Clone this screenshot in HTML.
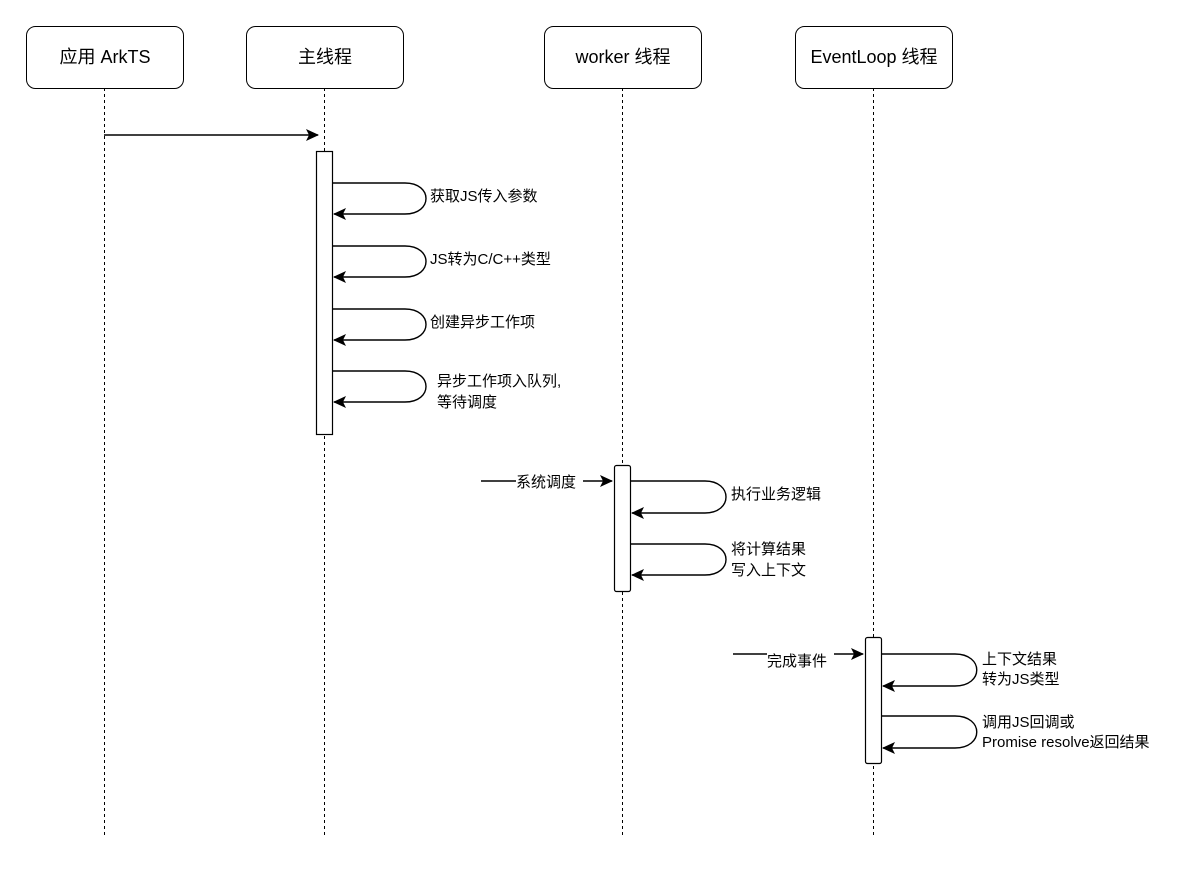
<!DOCTYPE html>
<html><head><meta charset="utf-8"><style>
body{margin:0;background:#fff;}
text{font-family:"Liberation Sans","Noto Sans CJK SC",sans-serif;font-size:15px;fill:#000;}
</style></head><body>
<svg width="1200" height="870" xmlns="http://www.w3.org/2000/svg">
<defs><marker id="a" markerWidth="13" markerHeight="12" refX="12" refY="6" orient="auto" markerUnits="userSpaceOnUse"><path d="M0,0 L13,6 L0,12 L3,6 Z" fill="#000"/></marker></defs>
<g stroke="#000" stroke-width="1" stroke-dasharray="3,3" fill="none">
<line x1="104.5" y1="88" x2="104.5" y2="838"/>
<line x1="324.5" y1="88" x2="324.5" y2="838"/>
<line x1="622.5" y1="88" x2="622.5" y2="838"/>
<line x1="873.5" y1="88" x2="873.5" y2="838"/>
</g>
<g stroke="#000" fill="#fff" stroke-width="1">
<rect x="26.5" y="26.5" width="157" height="62" rx="9"/>
<rect x="246.5" y="26.5" width="157" height="62" rx="9"/>
<rect x="544.5" y="26.5" width="157" height="62" rx="9"/>
<rect x="795.5" y="26.5" width="157" height="62" rx="9"/>
</g>
<g text-anchor="middle" style="font-size:18px">
<text x="105" y="63" style="font-size:18px">应用 ArkTS</text>
<text x="325" y="63" style="font-size:18px">主线程</text>
<text x="623" y="63" style="font-size:18px">worker 线程</text>
<text x="874" y="63" style="font-size:18px">EventLoop 线程</text>
</g>
<g stroke="#000" stroke-width="1.4" fill="none">
<line x1="104" y1="135" x2="318" y2="135" marker-end="url(#a)"/>
</g>
<g stroke="#000" fill="#fff" stroke-width="1.2">
<rect x="316.5" y="151.5" width="16" height="283"/>
<rect x="614.5" y="465.5" width="16" height="126" rx="2"/>
<rect x="865.5" y="637.5" width="16" height="126" rx="2"/>
</g>
<g stroke="#000" stroke-width="1.4" fill="none">
<path d="M333,183 L405,183 C433,183 433,214 405,214 L334,214" marker-end="url(#a)"/>
<path d="M333,246 L405,246 C433,246 433,277 405,277 L334,277" marker-end="url(#a)"/>
<path d="M333,309 L405,309 C433,309 433,340 405,340 L334,340" marker-end="url(#a)"/>
<path d="M333,371 L405,371 C433,371 433,402 405,402 L334,402" marker-end="url(#a)"/>
<path d="M631,481 L705,481 C733,481 733,513 705,513 L632,513" marker-end="url(#a)"/>
<path d="M631,544 L705,544 C733,544 733,575 705,575 L632,575" marker-end="url(#a)"/>
<path d="M882,654 L955,654 C984,654 984,686 955,686 L883,686" marker-end="url(#a)"/>
<path d="M882,716 L955,716 C984,716 984,748 955,748 L883,748" marker-end="url(#a)"/>
<line x1="481" y1="481" x2="516" y2="481"/>
<line x1="583" y1="481" x2="612" y2="481" marker-end="url(#a)"/>
<line x1="733" y1="654" x2="767" y2="654"/>
<line x1="834" y1="654" x2="863" y2="654" marker-end="url(#a)"/>
</g>
<text x="430" y="201">获取JS传入参数</text>
<text x="430" y="264">JS转为C/C++类型</text>
<text x="430" y="327">创建异步工作项</text>
<text x="437" y="386">异步工作项入队列,</text>
<text x="437" y="407">等待调度</text>
<text x="516" y="487">系统调度</text>
<text x="731" y="499">执行业务逻辑</text>
<text x="731" y="554">将计算结果</text>
<text x="731" y="575">写入上下文</text>
<text x="767" y="666">完成事件</text>
<text x="982" y="664">上下文结果</text>
<text x="982" y="684">转为JS类型</text>
<text x="982" y="727">调用JS回调或</text>
<text x="982" y="747">Promise resolve返回结果</text>
</svg>
</body></html>
